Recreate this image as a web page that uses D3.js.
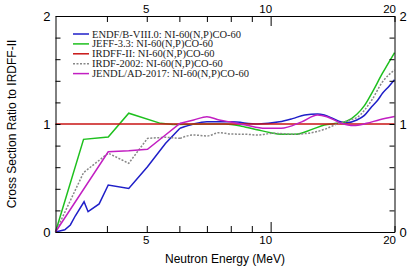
<!DOCTYPE html>
<html><head><meta charset="utf-8">
<script src="https://cdn.jsdelivr.net/npm/d3@7"></script>
<style>body{margin:0;background:#fff}svg{display:block}</style>
</head><body>
<script>
// ---- data ----
const endfE = [3, 3.16, 3.26, 3.35, 3.52, 3.6, 3.83, 4.03, 4.52, 5.02, 5.55, 6.02, 6.5, 7.0, 8.0, 9.3, 10.5, 11.3, 12.1, 13.0, 13.5, 14.2, 14.8, 15.3, 16.2, 16.9, 17.6, 18.2, 18.7, 19.4, 20];
const endfR = [0, 0.02, 0.065, 0.148, 0.28, 0.188, 0.26, 0.435, 0.404, 0.605, 0.82, 0.96, 1.0, 1.02, 1.02, 1.0, 1.02, 1.05, 1.083, 1.093, 1.083, 1.05, 1.02, 1.012, 1.037, 1.08, 1.16, 1.22, 1.284, 1.35, 1.41];
const jeffE = [3, 3.51, 4.03, 4.52, 5.40, 5.8, 7.0, 7.75, 8.5, 9.34, 10.0, 10.6, 11.5, 12.6, 13.5, 14.5, 15.3, 16.2, 16.9, 17.6, 18.7, 20];
const jeffR = [0, 0.858, 0.88, 1.10, 1.006, 0.995, 1.0, 1.0, 0.98, 0.944, 0.92, 0.905, 0.905, 0.95, 0.99, 1.006, 1.025, 1.09, 1.17, 1.284, 1.47, 1.66];
const irdffE = [3, 20];
const irdffR = [1, 1];
const irdfE = [3, 3.51, 4.03, 4.52, 5.02, 5.55, 6.02, 6.5, 7.0, 7.5, 8.0, 8.7, 9.3, 10.1, 11.3, 12.3, 13.5, 14.5, 15.7, 16.2, 17.6, 18.7, 20];
const irdfR = [0, 0.55, 0.73, 0.636, 0.867, 0.877, 0.867, 0.898, 0.889, 0.92, 0.907, 0.905, 0.898, 0.914, 0.905, 0.914, 0.95, 1.0, 1.04, 1.06, 1.22, 1.39, 1.50];
const jendlE = [3, 4.03, 4.52, 5.02, 5.55, 6.02, 6.5, 7.0, 7.5, 7.96, 8.7, 9.7, 10.6, 11.9, 13.0, 13.7, 14.8, 15.9, 17.1, 18.4, 20];
const jendlR = [0, 0.743, 0.753, 0.766, 0.898, 1.006, 1.037, 1.068, 1.037, 1.02, 0.99, 0.96, 0.96, 1.02, 1.083, 1.068, 1.01, 0.985, 1.006, 1.04, 1.07];

const seriesNames = ["ENDF/B-VIII.0: NI-60(N,P)CO-60", "JEFF-3.3: NI-60(N,P)CO-60", "IRDFF-II: NI-60(N,P)CO-60", "IRDF-2002: NI-60(N,P)CO-60", "JENDL/AD-2017: NI-60(N,P)CO-60"];
const xTicks = [4, 5, 6, 7, 8, 9, 10, 20];
const xTickLabels = [5, 10, 20];
const yTicks = [0, 0.2, 0.4, 0.6, 0.8, 1, 1.2, 1.4, 1.6, 1.8, 2];
const yTickLabels = [0, 1, 2];
const xTitle = "Neutron Energy (MeV)";
const yTitle = "Cross Section Ratio to IRDFF-II";

// ---- chart ----
const W = 416, H = 269;
const L = 55.5, R = 394.5, T = 16, B = 232;
const svg = d3.select("body").append("svg").attr("width", W).attr("height", H);
const x = d3.scaleLog().domain([3, 20]).range([L, R]);
const y = d3.scaleLinear().domain([0, 2]).range([B, T]);

const styles = [
  {c: "#1f1fc8", d: null},
  {c: "#1ec01e", d: null},
  {c: "#c81414", d: null},
  {c: "#888888", d: "2,1.5"},
  {c: "#c21fc2", d: null}
];
const data = [
  [endfE, endfR], [jeffE, jeffR], [irdffE, irdffR], [irdfE, irdfR], [jendlE, jendlR]
];

const lin = d3.line().x(d => x(d[0])).y(d => y(d[1])).curve(d3.curveLinear);
const smooth = d3.line().x(d => x(d[0])).y(d => y(d[1])).curve(d3.curveMonotoneX);
const plot = svg.append("g");
data.forEach((s, i) => {
  const pts = s[0].map((e, k) => [e, s[1][k]]);
  const br = 6.0;
  const lo = pts.filter(p => p[0] <= br + 0.05);
  const hiStart = Math.max(0, lo.length - 1);
  const hi = pts.slice(hiStart);
  const paths = (pts.length <= 2) ? [[pts, lin]] : [[lo, lin], [hi, smooth]];
  paths.forEach(([p, gen]) => {
    if (p.length < 2) return;
    plot.append("path").attr("d", gen(p)).attr("fill", "none")
      .attr("stroke", styles[i].c).attr("stroke-width", 1.5)
      .attr("stroke-dasharray", styles[i].d);
  });
});

// axes
const fmtX = d => xTickLabels.includes(d) ? String(d) : "";
const fmtY = d => yTickLabels.includes(Math.round(d * 10) / 10) && Math.abs(d - Math.round(d)) < 1e-9 ? String(Math.round(d)) : "";
const font = "'Liberation Sans', Arial, sans-serif";

function styleAxis(g) {
  g.select(".domain").attr("stroke", "#000").attr("stroke-width", 1);
  g.selectAll(".tick line").attr("stroke", "#000").attr("stroke-width", 1);
  g.selectAll("text").attr("font-family", font).attr("font-size", 11.5).attr("fill", "#000");
}
const gB = svg.append("g").attr("transform", `translate(0,${B})`)
  .call(d3.axisBottom(x).tickValues(xTicks).tickFormat(fmtX).tickSize(-6).tickPadding(4).tickSizeOuter(0));
const gT = svg.append("g").attr("transform", `translate(0,${T})`)
  .call(d3.axisTop(x).tickValues(xTicks).tickFormat(fmtX).tickSize(-6).tickPadding(3).tickSizeOuter(0));
[gB, gT].forEach(g => {
  styleAxis(g);
  g.selectAll(".tick").filter(d => d === 10).select("line").attr("y2", g === gB ? -10 : 10);
  g.selectAll(".tick").filter(d => d === 10 || d === 20).select("text").attr("text-anchor", "end").attr("x", 1);
  g.selectAll(".tick").filter(d => d === 5).select("text").attr("x", -1);
});
const gL = svg.append("g").attr("transform", `translate(${L},0)`)
  .call(d3.axisLeft(y).tickValues(yTicks).tickFormat(fmtY).tickSize(-5).tickPadding(5).tickSizeOuter(0));
const gR = svg.append("g").attr("transform", `translate(${R},0)`)
  .call(d3.axisRight(y).tickValues(yTicks).tickFormat(fmtY).tickSize(-5).tickPadding(5).tickSizeOuter(0));
[gL, gR].forEach(g => { styleAxis(g); g.selectAll("text").attr("font-size", 13); });

// titles
svg.append("text").attr("x", (L + R) / 2).attr("y", 263).attr("text-anchor", "middle")
  .attr("font-family", font).attr("font-size", 12).text(xTitle);
svg.append("text").attr("transform", `translate(16,${(T + B) / 2}) rotate(-90)`)
  .attr("text-anchor", "middle").attr("font-family", font).attr("font-size", 12).text(yTitle);

// legend
const lg = svg.append("g");
seriesNames.forEach((n, i) => {
  const yy = 34 + i * 9.9;
  lg.append("line").attr("x1", 73).attr("x2", 89).attr("y1", yy).attr("y2", yy)
    .attr("stroke", styles[i].c).attr("stroke-width", 1.5).attr("stroke-dasharray", styles[i].d);
  lg.append("text").attr("x", 92).attr("y", yy + 3.5).attr("font-family", "'Liberation Serif', 'Times New Roman', serif")
    .attr("font-size", 10.5).attr("fill", "#222").text(n);
});
</script>
</body></html>
